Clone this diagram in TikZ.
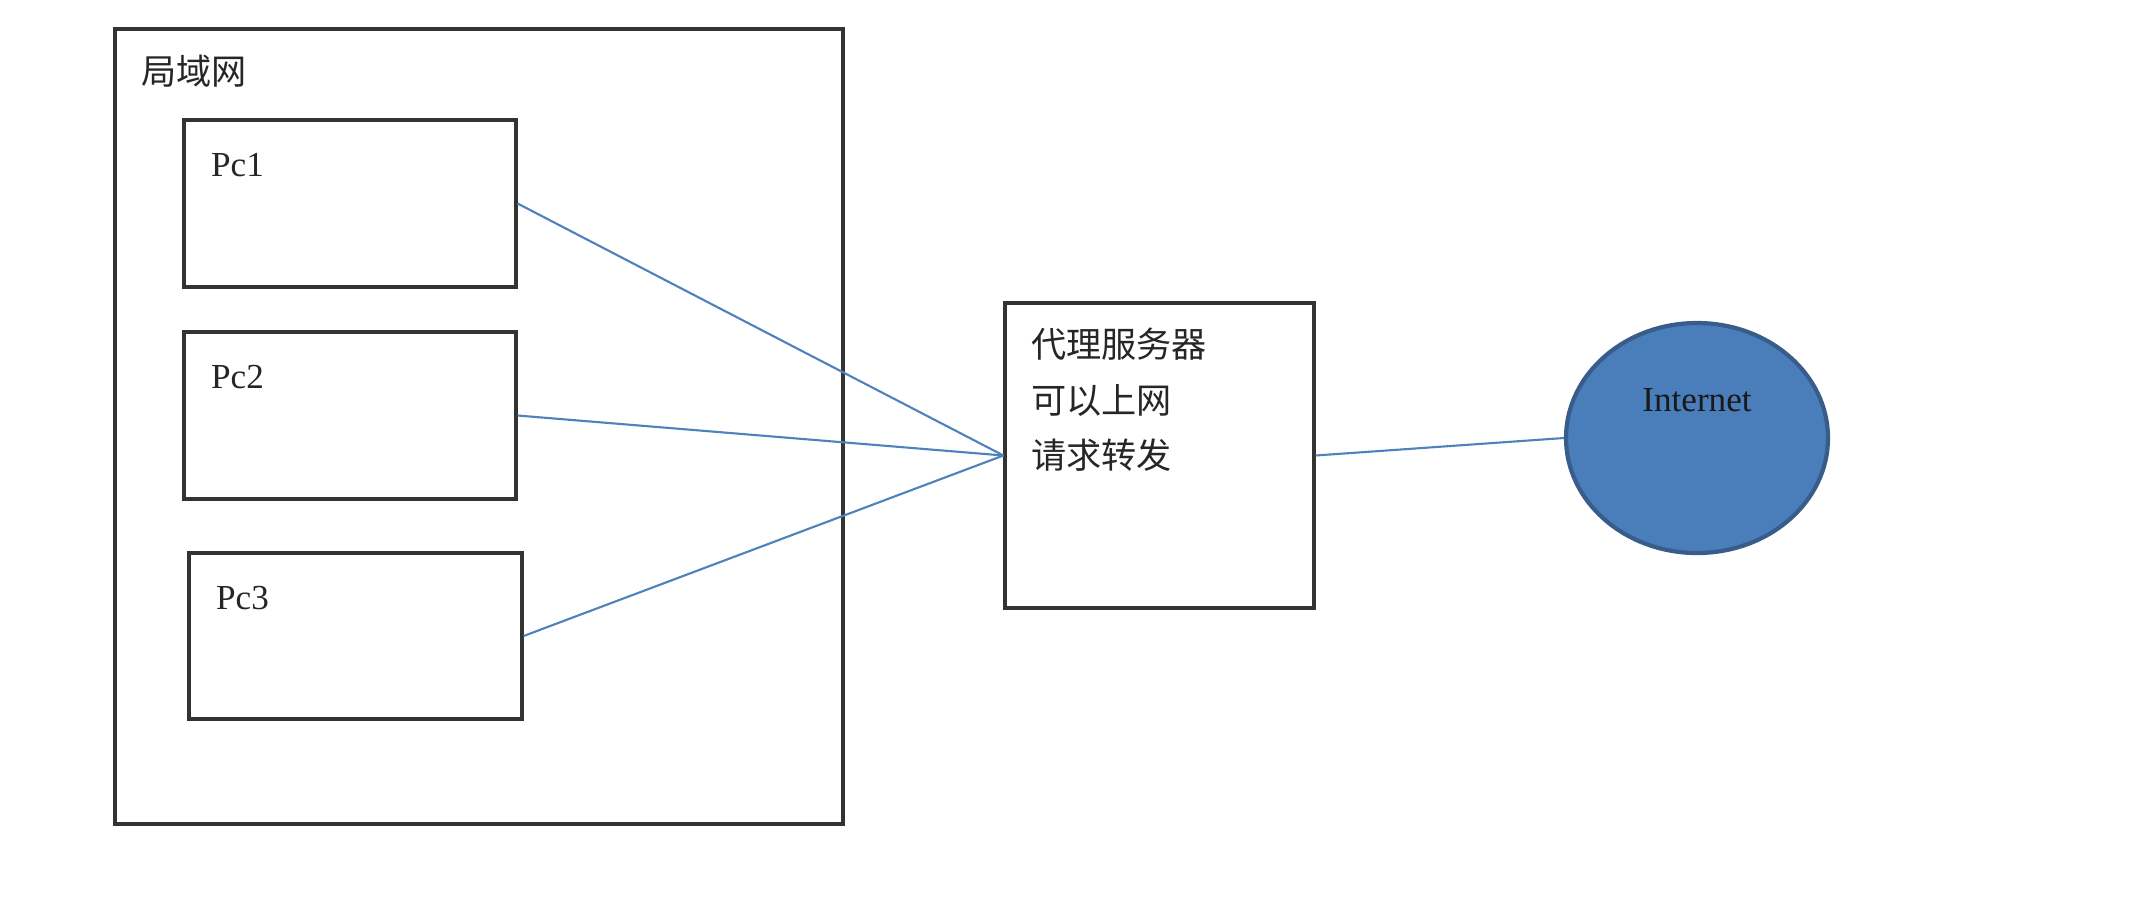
\documentclass[tikz,border=0pt]{standalone}
\usepackage{fontspec}
\setmainfont{Liberation Serif}
\newfontfamily\cjk{Noto Sans CJK SC}
\usepackage{xcolor}
\usetikzlibrary{positioning,shapes.geometric}
\definecolor{lnblue}{HTML}{4F81BD}
\definecolor{inetfill}{HTML}{4A7EBB}
\definecolor{inetdraw}{HTML}{385D8A}

\begin{document}
\begin{tikzpicture}[font=\fontsize{10pt}{12pt}\selectfont,
  box/.style={draw=black!80, line width=0.9pt, fill=white, inner sep=0pt},
  lbl/.style={inner sep=0pt, text=black!85},
  lnk/.style={draw=lnblue, line width=0.6pt}]
\useasboundingbox (0,0) rectangle (21.42,-9);
\node[box, minimum width=7.28cm, minimum height=7.95cm] (lan) at (4.79,-4.265) {};
\node[lbl, below right=0.44cm and 0.27cm of lan.north west, anchor=west] (lant) {\cjk 局域网};
\node[box, minimum width=3.32cm, minimum height=1.67cm] (pc1) at (3.50,-2.035) {};
\node[box, minimum width=3.32cm, minimum height=1.67cm] (pc2) at (3.50,-4.155) {};
\node[box, minimum width=3.33cm, minimum height=1.66cm] (pc3) at (3.555,-6.36) {};
\node[lbl, anchor=base west] (pc1t) at ([xshift=0.28cm, yshift=-0.58cm]pc1.north west) {Pc1};
\node[lbl, anchor=base west] (pc2t) at ([xshift=0.28cm, yshift=-0.58cm]pc2.north west) {Pc2};
\node[lbl, anchor=base west] (pc3t) at ([xshift=0.28cm, yshift=-0.58cm]pc3.north west) {Pc3};
\node[box, minimum width=3.09cm, minimum height=3.05cm] (proxy) at (11.595,-4.555) {};
\node[lbl, anchor=north west, align=left, font=\cjk\fontsize{10pt}{15.8pt}\selectfont] (proxyt) at ([xshift=0.27cm, yshift=-0.26cm]proxy.north west) {代理服务器\\可以上网\\请求转发};
\node[ellipse, draw=inetdraw, line width=1.2pt, fill=inetfill, minimum width=2.62cm, minimum height=2.30cm] (inet) at (16.97,-4.38) {};
\node[lbl, text=black!90] (inett) at ([yshift=0.38cm]inet.center) {Internet};
\draw[lnk] (pc1.east) -- (proxy.west);
\draw[lnk] (pc2.east) -- (proxy.west);
\draw[lnk] (pc3.east) -- (proxy.west);
\draw[lnk] (proxy.east) -- (inet.west);
\end{tikzpicture}
\end{document}
